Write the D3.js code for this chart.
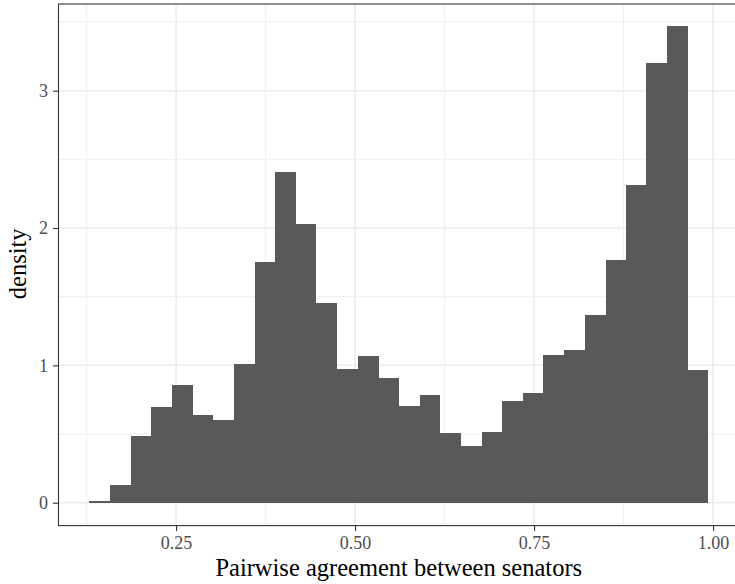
<!DOCTYPE html>
<html>
<head>
<meta charset="utf-8">
<script src="https://cdn.jsdelivr.net/npm/d3@7"></script>
<style>
  html, body { margin: 0; padding: 0; background: #ffffff; }
  svg { display: block; }
  text { font-family: "Liberation Serif", "DejaVu Serif", serif; }
</style>
</head>
<body>
<svg id="chart" width="735" height="584"></svg>
<script>
// Histogram of pairwise agreement between senators (30 bins, density scale)
const binEdges = [0.129, 0.158, 0.187, 0.215, 0.244, 0.273, 0.302, 0.331, 0.360, 0.388,
                  0.417, 0.446, 0.475, 0.504, 0.533, 0.561, 0.590, 0.619, 0.648, 0.677,
                  0.705, 0.734, 0.763, 0.792, 0.821, 0.850, 0.878, 0.907, 0.936, 0.965, 0.993];
const densities = [0.012, 0.129, 0.486, 0.70, 0.86, 0.64, 0.60, 1.01, 1.75, 2.41,
                   2.03, 1.456, 0.97, 1.068, 0.91, 0.705, 0.784, 0.508, 0.413, 0.515,
                   0.74, 0.80, 1.075, 1.11, 1.367, 1.77, 2.31, 3.20, 3.47, 0.966];
const xTicks = [0.25, 0.50, 0.75, 1.00];
const xMinor = [0.125, 0.375, 0.625, 0.875];
const yTicks = [0, 1, 2, 3];
const yMinor = [0.5, 1.5, 2.5, 3.5];

const bins = densities.map((d, i) => ({ x0: binEdges[i], x1: binEdges[i + 1], density: d }));

const svg = d3.select("#chart");
const panel = { left: 58.5, right: 739, top: 4, bottom: 525.6 };

const x = d3.scaleLinear().domain([0.0858, 1.0362]).range([panel.left, panel.right]);
const y = d3.scaleLinear().domain([-0.1667, 3.631]).range([panel.bottom, panel.top]);

const g = svg.append("g");

// panel background
g.append("rect")
  .attr("x", panel.left).attr("y", panel.top)
  .attr("width", panel.right - panel.left).attr("height", panel.bottom - panel.top)
  .attr("fill", "#ffffff");

// minor grid
g.selectAll("line.xminor").data(xMinor).join("line")
  .attr("x1", d => x(d)).attr("x2", d => x(d))
  .attr("y1", panel.top).attr("y2", panel.bottom)
  .attr("stroke", "#ebebeb").attr("stroke-width", 0.8);
g.selectAll("line.yminor").data(yMinor).join("line")
  .attr("y1", d => y(d)).attr("y2", d => y(d))
  .attr("x1", panel.left).attr("x2", panel.right)
  .attr("stroke", "#ebebeb").attr("stroke-width", 0.8);

// major grid
g.selectAll("line.xmajor").data(xTicks).join("line")
  .attr("x1", d => x(d)).attr("x2", d => x(d))
  .attr("y1", panel.top).attr("y2", panel.bottom)
  .attr("stroke", "#ebebeb").attr("stroke-width", 1.5);
g.selectAll("line.ymajor").data(yTicks).join("line")
  .attr("y1", d => y(d)).attr("y2", d => y(d))
  .attr("x1", panel.left).attr("x2", panel.right)
  .attr("stroke", "#ebebeb").attr("stroke-width", 1.5);

// bars
g.selectAll("rect.bar").data(bins).join("rect")
  .attr("class", "bar")
  .attr("x", d => x(d.x0))
  .attr("width", d => x(d.x1) - x(d.x0))
  .attr("y", d => y(d.density))
  .attr("height", d => y(0) - y(d.density))
  .attr("fill", "#595959")
  .attr("shape-rendering", "crispEdges");

// panel border
g.append("rect")
  .attr("x", panel.left).attr("y", panel.top)
  .attr("width", panel.right - panel.left).attr("height", panel.bottom - panel.top)
  .attr("fill", "none").attr("stroke", "#333333").attr("stroke-width", 1.1);

// axes
const xAxis = d3.axisBottom(x).tickValues(xTicks).tickFormat(d3.format(".2f"))
  .tickSize(5.5).tickPadding(5);
const yAxis = d3.axisLeft(y).tickValues(yTicks).tickFormat(d3.format("d"))
  .tickSize(5.5).tickPadding(5);

const gx = svg.append("g").attr("transform", `translate(0,${panel.bottom})`).call(xAxis);
const gy = svg.append("g").attr("transform", `translate(${panel.left},0)`).call(yAxis);
[gx, gy].forEach(a => {
  a.select(".domain").remove();
  a.selectAll(".tick line").attr("stroke", "#333333").attr("stroke-width", 1.1);
  a.selectAll(".tick text").attr("fill", "#4d4d4d")
    .style("font-family", "'Liberation Serif', serif").style("font-size", "18px");
});

// axis titles
svg.append("text")
  .attr("x", (panel.left + panel.right) / 2)
  .attr("y", 576)
  .attr("text-anchor", "middle")
  .attr("fill", "#000000")
  .style("font-size", "24.5px")
  .text("Pairwise agreement between senators");

svg.append("text")
  .attr("transform", `translate(26,${(panel.top + panel.bottom) / 2 - 1}) rotate(-90)`)
  .attr("text-anchor", "middle")
  .attr("fill", "#000000")
  .style("font-size", "24.5px")
  .text("density");
</script>
</body>
</html>
